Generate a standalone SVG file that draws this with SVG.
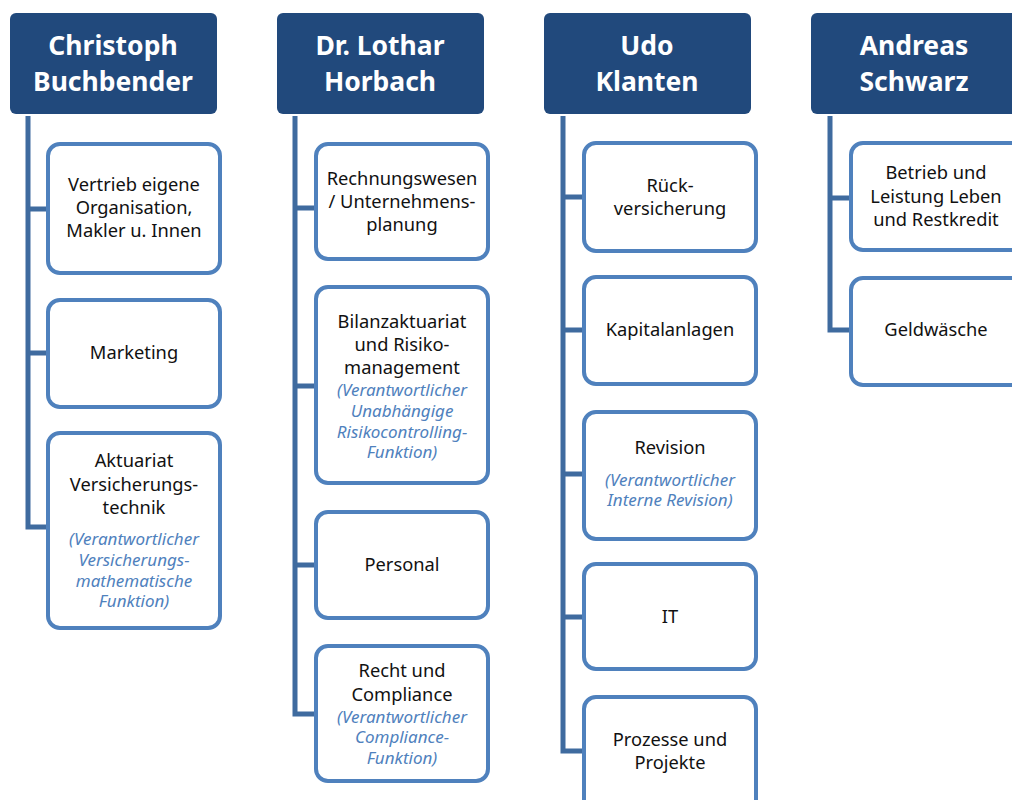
<svg xmlns="http://www.w3.org/2000/svg" width="1012" height="800" viewBox="0 0 1012 800">
<style>
.hd{fill:#21497c}
.ht{font-family:"Noto Sans","Open Sans",sans-serif;font-weight:bold;font-size:26.5px;fill:#fff;text-anchor:middle}
.bx{fill:#fff;stroke:#4f81bd;stroke-width:4}
.t{font-family:"Noto Sans","Open Sans",sans-serif;font-size:18.3px;fill:#111;text-anchor:middle}
.i{font-family:"Noto Sans","Open Sans",sans-serif;font-size:17px;font-style:italic;fill:#4f81bd;text-anchor:middle}
.c{fill:none;stroke:#3f6b9f;stroke-width:5}
</style>
<rect width="1012" height="800" fill="#fff"/>
<g id="connectors">
<path class="c" d="M28,116V527H48M28,209H48M28,353H48"/>
<path class="c" d="M295,116V714H316M295,208H316M295,386H316M295,565H316"/>
<path class="c" d="M563,116V751H584M563,197H584M563,330H584M563,474H584M563,617H584"/>
<path class="c" d="M830,116V330H851M830,198H851"/>
</g>
<g id="h1"><rect class="hd" x="10" y="13" width="207" height="101" rx="6"/><text class="ht" x="113" y="55">Christoph</text><text class="ht" x="113" y="91">Buchbender</text></g>
<g id="h2"><rect class="hd" x="277" y="13" width="207" height="101" rx="6"/><text class="ht" x="380" y="55">Dr. Lothar</text><text class="ht" x="380" y="91">Horbach</text></g>
<g id="h3"><rect class="hd" x="544" y="13" width="207" height="101" rx="6"/><text class="ht" x="647" y="55">Udo</text><text class="ht" x="647" y="91">Klanten</text></g>
<g id="h4"><rect class="hd" x="811" y="13" width="215" height="101" rx="6"/><text class="ht" x="914" y="55">Andreas</text><text class="ht" x="914" y="91">Schwarz</text></g>

<g id="c1b1"><rect class="bx" x="48" y="144" width="172" height="129" rx="12"/><text class="t" x="134" y="191">Vertrieb eigene</text><text class="t" x="134" y="214">Organisation,</text><text class="t" x="134" y="237">Makler u. Innen</text></g>
<g id="c1b2"><rect class="bx" x="48" y="300" width="172" height="107" rx="12"/><text class="t" x="134" y="359">Marketing</text></g>
<g id="c1b3"><rect class="bx" x="48" y="433" width="172" height="195" rx="12"/><text class="t" x="134" y="467">Aktuariat</text><text class="t" x="134" y="491">Versicherungs-</text><text class="t" x="134" y="514">technik</text><text class="i" x="134" y="545">(Verantwortlicher</text><text class="i" x="134" y="566">Versicherungs-</text><text class="i" x="134" y="587">mathematische</text><text class="i" x="134" y="607">Funktion)</text></g>

<g id="c2b1"><rect class="bx" x="316" y="144" width="172" height="115" rx="12"/><text class="t" x="402" y="185">Rechnungswesen</text><text class="t" x="402" y="208">/ Unternehmens-</text><text class="t" x="402" y="231">planung</text></g>
<g id="c2b2"><rect class="bx" x="316" y="287" width="172" height="196" rx="12"/><text class="t" x="402" y="328">Bilanzaktuariat</text><text class="t" x="402" y="351">und Risiko-</text><text class="t" x="402" y="374">management</text><text class="i" x="402" y="396">(Verantwortlicher</text><text class="i" x="402" y="417">Unabhängige</text><text class="i" x="402" y="438">Risikocontrolling-</text><text class="i" x="402" y="458">Funktion)</text></g>
<g id="c2b3"><rect class="bx" x="316" y="512" width="172" height="106" rx="12"/><text class="t" x="402" y="571">Personal</text></g>
<g id="c2b4"><rect class="bx" x="316" y="646" width="172" height="135" rx="12"/><text class="t" x="402" y="677">Recht und</text><text class="t" x="402" y="701">Compliance</text><text class="i" x="402" y="723">(Verantwortlicher</text><text class="i" x="402" y="743">Compliance-</text><text class="i" x="402" y="764">Funktion)</text></g>

<g id="c3b1"><rect class="bx" x="584" y="143" width="172" height="108" rx="12"/><text class="t" x="670" y="192">Rück-</text><text class="t" x="670" y="215">versicherung</text></g>
<g id="c3b2"><rect class="bx" x="584" y="277" width="172" height="107" rx="12"/><text class="t" x="670" y="336">Kapitalanlagen</text></g>
<g id="c3b3"><rect class="bx" x="584" y="412" width="172" height="127" rx="12"/><text class="t" x="670" y="454">Revision</text><text class="i" x="670" y="486">(Verantwortlicher</text><text class="i" x="670" y="506">Interne Revision)</text></g>
<g id="c3b4"><rect class="bx" x="584" y="564" width="172" height="105" rx="12"/><text class="t" x="670" y="623">IT</text></g>
<g id="c3b5"><rect class="bx" x="584" y="697" width="172" height="120" rx="12"/><text class="t" x="670" y="746">Prozesse und</text><text class="t" x="670" y="769">Projekte</text></g>

<g id="c4b1"><rect class="bx" x="851" y="143" width="180" height="107" rx="12"/><text class="t" x="936" y="179">Betrieb und</text><text class="t" x="936" y="203">Leistung Leben</text><text class="t" x="936" y="226">und Restkredit</text></g>
<g id="c4b2"><rect class="bx" x="851" y="278" width="180" height="107" rx="12"/><text class="t" x="936" y="336">Geldwäsche</text></g>
</svg>
